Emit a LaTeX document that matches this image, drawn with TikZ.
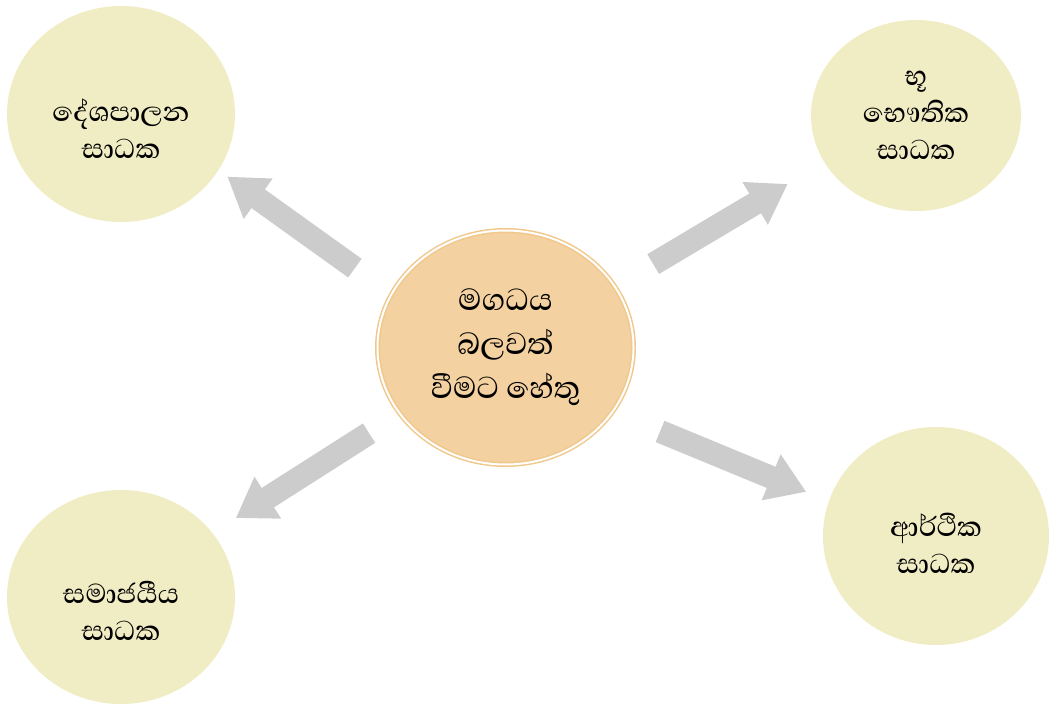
\documentclass[tikz,border=0pt]{standalone}
\usepackage{fontspec}
\IfFontExistsTF{Abhaya Libre Medium}
  {\newfontfamily\sinhala[Script=Sinhala]{Abhaya Libre Medium}}
  {\newfontfamily\sinhala[Script=Sinhala]{Abhaya Libre}}
\usepackage{tikz}
\usetikzlibrary{shapes.geometric}
\usetikzlibrary{arrows.meta, positioning}

\definecolor{factorfill}{RGB}{240,236,196}
\definecolor{causefill}{RGB}{243,209,160}
\definecolor{causeline}{RGB}{241,200,140}

\begin{document}
\begin{tikzpicture}[x=1pt, y=1pt,
      factor/.style={ellipse, fill=factorfill, inner sep=0pt, outer sep=0pt},
      factortext/.style={align=center, font=\sinhala\fontsize{35}{37}\selectfont},
      cause/.style={ellipse, fill=causefill, draw=causeline, line width=1.5pt, double=white, double distance=2pt,
        minimum width=256pt, minimum height=234pt, inner sep=0pt, outer sep=0pt,
        align=center, font=\sinhala\fontsize{39}{44}\selectfont},
      arrow/.style={-{Triangle[length=38pt, width=47pt]}, line width=23pt, draw=black!20}
    ]
    \useasboundingbox (0,0) rectangle (1049,-709);

    % Centre
    \node[cause] (magadha) at (505.5,-347.5) {මගධය\\බලවත්\\වීමට හේතු};

    % Factors
    \node[factor, minimum width=228pt, minimum height=216pt] (pol) at (121,-114) {};
    \node[factor, minimum width=210pt, minimum height=191pt] (geo) at (916,-115.5) {};
    \node[factor, minimum width=228pt, minimum height=214pt] (soc) at (121,-597) {};
    \node[factor, minimum width=226pt, minimum height=218pt] (eco) at (936,-536) {};

    \node[factortext] (poltext) at ([yshift=-15pt]pol.center) {දේශපාලන\\සාධක};
    \node[factortext] (geotext) at (geo.center) {භූ\\භෞතික\\සාධක};
    \node[factortext] (soctext) at ([yshift=-14pt]soc.center) {සමාජයීය\\සාධක};
    \node[factortext] (ecotext) at ([yshift=-7pt]eco.center) {ආර්ථික\\සාධක};

    % Arrows from centre
    \draw[arrow, shorten <=45pt, shorten >=11pt] (magadha.155.6) -- (pol.-30.4);
    \draw[arrow, shorten <=44.5pt, shorten >=42.6pt] (magadha.29.5) -- (geo.-153);
    \draw[arrow, shorten <=36.5pt, shorten >=27.8pt] (magadha.-148.5) -- (soc.35.7);
    \draw[arrow, shorten <=51.5pt, shorten >=24.5pt] (magadha.-31.5) -- (eco.162.6);

    \end{tikzpicture}
\end{document}
